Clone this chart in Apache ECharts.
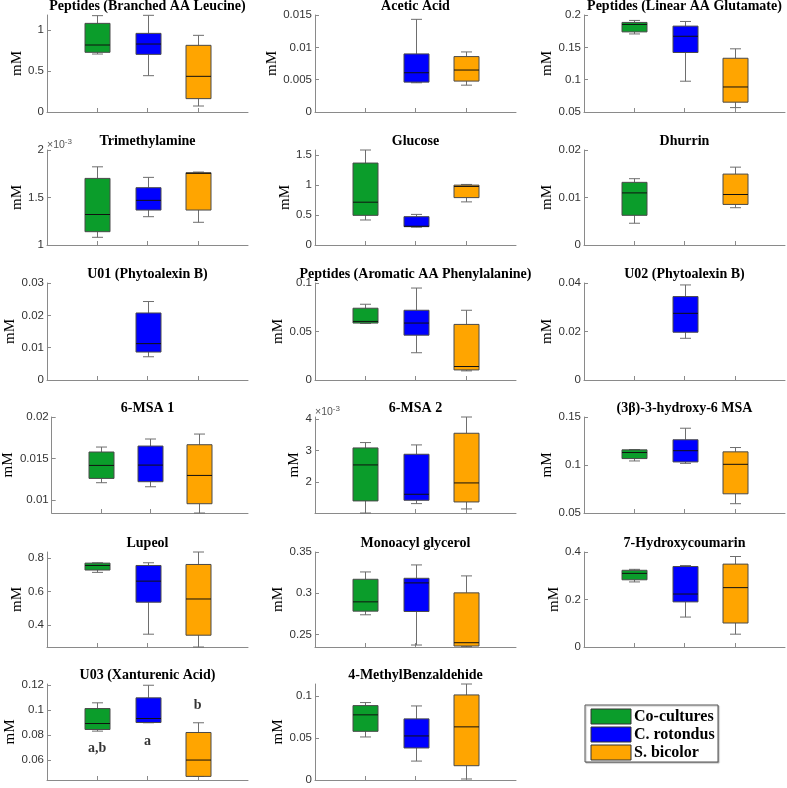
<!DOCTYPE html>
<html>
<head>
<meta charset="utf-8">
<script src="https://cdn.jsdelivr.net/npm/echarts@6.0.0/dist/echarts.min.js"></script>
<style>
  body { margin: 0; background: #fff; }
  #main { width: 787px; height: 788px; }
</style>
</head>
<body>
<div id="main"></div>
<script>
const groups = ['Co-cultures', 'C. rotondus', 'S. bicolor'];
const groupColors = ['#0b9d2b', '#0000ff', '#ffa500'];

const titles = [
  'Peptides (Branched AA Leucine)', 'Acetic Acid', 'Peptides (Linear AA Glutamate)',
  'Trimethylamine', 'Glucose', 'Dhurrin',
  'U01 (Phytoalexin B)', 'Peptides (Aromatic AA Phenylalanine)', 'U02 (Phytoalexin B)',
  '6-MSA 1', '6-MSA 2', '(3\u03b2)-3-hydroxy-6 MSA',
  'Lupeol', 'Monoacyl glycerol', '7-Hydroxycoumarin',
  'U03 (Xanturenic Acid)', '4-MethylBenzaldehide'
];

// [min, Q1, median, Q3, max] per group (Co-cultures, C. rotondus, S. bicolor); null = not found
const leucine = [[0.707, 0.728, 0.817, 1.081, 1.175], [0.443, 0.703, 0.829, 0.959, 1.179], [0.073, 0.163, 0.435, 0.813, 0.935]];
const acetic = [null, [0.00452, 0.00462, 0.00607, 0.00898, 0.01433], [0.00415, 0.00478, 0.00649, 0.00857, 0.00929]];
const glutamate = [[0.1707, 0.1739, 0.1854, 0.1885, 0.1916], [0.0976, 0.142, 0.1671, 0.1828, 0.190], [0.0568, 0.0652, 0.0887, 0.1331, 0.1477]];
const trimethylamine = [[1.081, 1.140, 1.321, 1.701, 1.823], [1.298, 1.368, 1.470, 1.603, 1.712], [1.239, 1.368, 1.754, 1.761, 1.768]]; // x10^-3
const glucose = [[0.416, 0.493, 0.712, 1.363, 1.58], [0.296, 0.305, 0.312, 0.471, 0.509], [0.717, 0.788, 0.974, 0.996, 1.007]];
const dhurrin = [[0.00458, 0.00625, 0.01097, 0.01319, 0.01396], null, [0.00785, 0.00854, 0.01063, 0.01493, 0.01639]];
const u01 = [null, [0.00719, 0.00865, 0.01125, 0.02073, 0.02427], null];
const phenylalanine = [[0.0583, 0.0587, 0.0604, 0.0740, 0.0781], [0.0281, 0.0462, 0.0587, 0.0719, 0.0948], [0.0094, 0.0104, 0.0139, 0.0573, 0.0719]];
const u02 = [null, [0.0172, 0.0197, 0.0275, 0.0344, 0.0392], null];
const msa1 = [[0.01206, 0.01258, 0.01415, 0.01577, 0.01637], [0.01157, 0.01218, 0.01419, 0.01649, 0.01734], [0.0084, 0.00952, 0.01294, 0.01665, 0.01794]];
const msa2 = [[1.03, 1.411, 2.547, 3.084, 3.253], [1.326, 1.432, 1.621, 2.884, 3.179], [1.158, 1.379, 1.979, 3.547, 4.06]]; // x10^-3
const hydroxyMsa = [[0.1042, 0.1067, 0.1130, 0.1158, 0.1161], [0.1017, 0.1032, 0.1149, 0.1263, 0.1383], [0.0597, 0.0700, 0.1007, 0.1137, 0.1182]];
const lupeol = [[0.714, 0.728, 0.755, 0.769, 0.771], [0.347, 0.537, 0.662, 0.755, 0.771], [0.271, 0.341, 0.556, 0.761, 0.835]];
const monoacyl = [[0.2738, 0.2782, 0.2895, 0.3169, 0.3258], [0.2371, 0.2778, 0.3125, 0.3181, 0.3343], [0.2351, 0.2359, 0.2399, 0.3004, 0.3210]];
const hydroxycoumarin = [[0.274, 0.283, 0.310, 0.323, 0.327], [0.126, 0.190, 0.223, 0.339, 0.343], [0.054, 0.101, 0.250, 0.349, 0.381]];
const u03 = [[0.0832, 0.0845, 0.0893, 0.1013, 0.1059], [0.0899, 0.0901, 0.0933, 0.1099, 0.120], [0.0469, 0.0469, 0.060, 0.0821, 0.0899]];
const methylBenzaldehide = [[0.0512, 0.0579, 0.0775, 0.0885, 0.0921], [0.0225, 0.0381, 0.0524, 0.0727, 0.0881], [0.0012, 0.0170, 0.0632, 0.1012, 0.1142]];

const panels = [leucine, acetic, glutamate, trimethylamine, glucose, dhurrin, u01, phenylalanine, u02,
  msa1, msa2, hydroxyMsa, lupeol, monoacyl, hydroxycoumarin, u03, methylBenzaldehide];

const yRanges = [[0, 1.183], [0, 0.015], [0.05, 0.2], [1, 2], [0, 1.58], [0, 0.02], [0, 0.03], [0, 0.1], [0, 0.04],
  [0.0084, 0.02], [1.03, 4.06], [0.05, 0.15], [0.271, 0.835], [0.2347, 0.35], [0, 0.4], [0.044, 0.121], [0, 0.1142]];
const yTicks = [[0, 0.5, 1], [0, 0.005, 0.01, 0.015], [0.05, 0.1, 0.15, 0.2], [1, 1.5, 2], [0, 0.5, 1, 1.5], [0, 0.01, 0.02],
  [0, 0.01, 0.02, 0.03], [0, 0.05, 0.1], [0, 0.02, 0.04], [0.01, 0.015, 0.02], [2, 3, 4], [0.05, 0.1, 0.15],
  [0.4, 0.6, 0.8], [0.25, 0.3, 0.35], [0, 0.2, 0.4], [0.06, 0.08, 0.1, 0.12], [0, 0.05, 0.1]];
const scaledPanels = [3, 10]; // drawn with a x10^-3 multiplier

// significance letters in the U03 panel: [group index, mM, text]
const u03Letters = [[1, 0.0693, 'a,b'], [2, 0.0747, 'a'], [3, 0.1035, 'b']];

const rowTop = [15, 150, 283, 417, 552, 684];
const rowH = [97, 95, 97, 96, 95, 96];
const colLeft = [47, 315, 584];
const colW = 201;
const axisGray = '#8a8a8a';
const BOX_W = 25, CAP_W = 11;

const chart = echarts.init(document.getElementById('main'));

const grid = [], xAxis = [], yAxis = [], series = [], title = [], graphic = [];

// box + whiskers drawn through the axis scales (api.coord)
function renderBox(params, api) {
  const x = api.value(0);
  const p = [1, 2, 3, 4, 5].map(function (d) { return api.coord([x, api.value(d)]); });
  const cx = Math.round(p[0][0]) + 0.5;
  const yMin = p[0][1], yQ1 = p[1][1], yMed = p[2][1], yQ3 = p[3][1], yMax = p[4][1];
  const color = groupColors[api.value(6)];
  const whisker = { stroke: '#6e6e6e', lineWidth: 1 };
  return {
    type: 'group',
    children: [
      { type: 'line', shape: { x1: cx, y1: yQ3, x2: cx, y2: yMax }, style: whisker },
      { type: 'line', shape: { x1: cx, y1: yQ1, x2: cx, y2: yMin }, style: whisker },
      { type: 'line', shape: { x1: cx - CAP_W / 2, y1: yMax, x2: cx + CAP_W / 2, y2: yMax }, style: whisker },
      { type: 'line', shape: { x1: cx - CAP_W / 2, y1: yMin, x2: cx + CAP_W / 2, y2: yMin }, style: whisker },
      { type: 'rect', shape: { x: cx - BOX_W / 2, y: yQ3, width: BOX_W, height: yQ1 - yQ3 },
        style: { fill: color, stroke: '#4a4a4a', lineWidth: 1 } },
      { type: 'line', shape: { x1: cx - BOX_W / 2, y1: yMed, x2: cx + BOX_W / 2, y2: yMed },
        style: { stroke: '#111', lineWidth: 1 } }
    ]
  };
}

panels.forEach(function (boxes, i) {
  const r = Math.floor(i / 3), c = i % 3;
  const left = colLeft[c], top = rowTop[r], h = rowH[r];
  grid.push({ left: left, top: top, width: colW, height: h });

  title.push({
    text: titles[i], left: left + colW / 2, top: top - 17, textAlign: 'center', padding: 0,
    textStyle: { fontFamily: 'Liberation Serif', fontWeight: 'bold', fontSize: 14, lineHeight: 16, color: '#000' }
  });

  xAxis.push({
    gridIndex: i, type: 'category', boundaryGap: false,
    data: [' ', groups[0], groups[1], groups[2], '  '],
    axisLine: { lineStyle: { color: axisGray } },
    axisTick: { inside: true, length: 4, interval: function (idx) { return idx >= 1 && idx <= 3; }, lineStyle: { color: axisGray } },
    axisLabel: { show: false }, splitLine: { show: false }
  });

  const maxLen = Math.max.apply(null, yTicks[i].map(function (v) { return String(v).length; }));
  yAxis.push({
    gridIndex: i, type: 'value', min: yRanges[i][0], max: yRanges[i][1],
    name: 'mM', nameLocation: 'middle', nameGap: maxLen * 5.5 + 3,
    nameTextStyle: { fontFamily: 'Liberation Serif', fontSize: 15, color: '#000' },
    axisLine: { show: true, lineStyle: { color: axisGray } },
    axisTick: { show: true, inside: true, length: 4, customValues: yTicks[i], lineStyle: { color: axisGray } },
    axisLabel: { customValues: yTicks[i], margin: 3, fontFamily: 'Liberation Sans', fontSize: 11.5, color: '#333',
      formatter: function (v) { return String(v); } },
    splitLine: { show: false }
  });

  const data = [];
  boxes.forEach(function (b, g) {
    if (b) data.push([g + 1].concat(b, [g]));
  });
  series.push({
    type: 'custom', xAxisIndex: i, yAxisIndex: i, data: data, renderItem: renderBox,
    encode: { x: 0, y: [1, 2, 3, 4, 5] }, silent: true, clip: false
  });

  if (scaledPanels.indexOf(i) >= 0) {
    graphic.push({
      type: 'text', left: left, top: top - 12,
      style: { text: '{a|\u00d710}{b|-3}', rich: {
        a: { fontFamily: 'Liberation Sans', fontSize: 10.5, fill: '#555' },
        b: { fontFamily: 'Liberation Sans', fontSize: 8, fill: '#555', padding: [0, 0, 7, 0] } } }
    });
  }
});

series.push({
  type: 'scatter', xAxisIndex: 15, yAxisIndex: 15, data: u03Letters, symbolSize: 1,
  itemStyle: { color: 'transparent' }, silent: true,
  label: { show: true, position: 'inside', formatter: function (p) { return p.value[2]; },
    fontFamily: 'Liberation Serif', fontWeight: 'bold', fontSize: 14, color: '#000' }
});

// legend box
const lgX = 585, lgY = 705;
graphic.push({ type: 'rect', shape: { x: lgX, y: lgY, width: 133, height: 57 },
  style: { fill: '#fff', stroke: '#555', lineWidth: 1, shadowColor: 'rgba(0,0,0,0.25)', shadowOffsetX: 1, shadowOffsetY: 1, shadowBlur: 1 } });
groups.forEach(function (g, k) {
  const y = lgY + 4 + k * 18;
  graphic.push({ type: 'rect', shape: { x: lgX + 6, y: y, width: 40, height: 15 },
    style: { fill: groupColors[k], stroke: '#333', lineWidth: 1 } });
  graphic.push({ type: 'text', x: lgX + 49, y: y + 8,
    style: { text: g, fontFamily: 'Liberation Serif', fontWeight: 'bold', fontSize: 16, fill: '#000', verticalAlign: 'middle' } });
});

chart.setOption({
  animation: false,
  title: title, grid: grid, xAxis: xAxis, yAxis: yAxis, series: series, graphic: graphic
});
</script>
</body>
</html>
